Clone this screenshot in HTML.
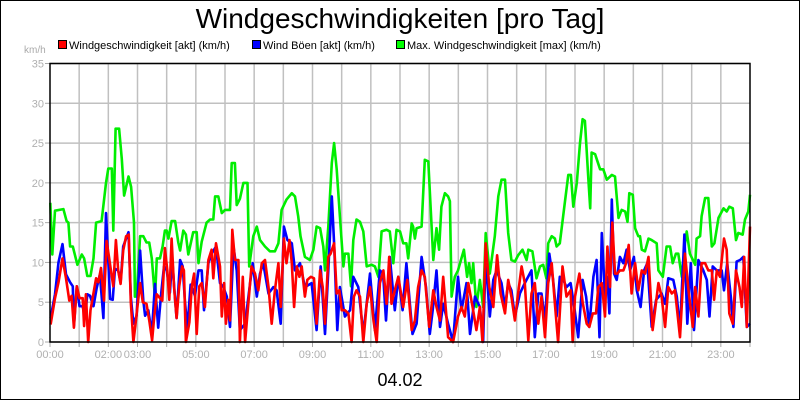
<!DOCTYPE html>
<html><head><meta charset="utf-8"><style>
body{margin:0;background:#fff}
svg{display:block;font-family:"Liberation Sans",sans-serif}
</style></head><body>
<svg id="chart" width="800" height="400" viewBox="0 0 800 400" xmlns="http://www.w3.org/2000/svg">
<rect x="0.5" y="0.5" width="799" height="399" fill="#fff" stroke="#000"/>
<text x="400" y="28" font-size="28" text-anchor="middle" fill="#000">Windgeschwindigkeiten [pro Tag]</text>
<g font-size="11">
<g><rect x="58.5" y="40.5" width="8" height="8" fill="#f00" stroke="#000"/><text x="69" y="49">Windgeschwindigkeit [akt] (km/h)</text></g>
<g><rect x="252.5" y="40.5" width="8" height="8" fill="#00f" stroke="#000"/><text x="263" y="49">Wind Böen [akt] (km/h)</text></g>
<g><rect x="396.5" y="40.5" width="8" height="8" fill="#0f0" stroke="#000"/><text x="407" y="49">Max. Windgeschwindigkeit [max] (km/h)</text></g>
</g>
<text x="24" y="53" font-size="10" fill="#aaa">km/h</text>
<g id="grid"></g><g id="axes"></g><g id="series"></g>
<rect x="50" y="63.5" width="700" height="278.5" fill="none" stroke="#000" stroke-width="1.5"/>
<text x="400" y="386" font-size="18" text-anchor="middle">04.02</text>
</svg>
<script>
const yTicks=[0,5,10,15,20,25,30,35];
const xTickLabels=["00:00","02:00","03:00","05:00","07:00","09:00","11:00","13:00","15:00","17:00","19:00","21:00","23:00"];
const xTickHours=[0,2,3,5,7,9,11,13,15,17,19,21,23];
const greenT=[0.01,0.08,0.17,0.46,0.57,0.63,0.69,0.78,0.94,1.09,1.17,1.28,1.39,1.49,1.58,1.77,1.92,2.0,2.12,2.17,2.25,2.37,2.46,2.54,2.69,2.78,2.88,2.91,2.97,3.09,3.2,3.31,3.4,3.49,3.6,3.66,3.77,3.86,3.94,4.0,4.06,4.17,4.29,4.40,4.46,4.57,4.66,4.74,4.91,5.03,5.09,5.20,5.37,5.49,5.60,5.66,5.77,5.89,6.00,6.17,6.23,6.34,6.40,6.51,6.63,6.77,6.83,6.97,7.09,7.20,7.37,7.54,7.71,7.83,7.94,8.11,8.29,8.40,8.51,8.59,8.74,8.91,9.03,9.14,9.26,9.37,9.43,9.54,9.66,9.74,9.83,9.94,10.06,10.11,10.23,10.32,10.40,10.51,10.63,10.74,10.86,11.03,11.14,11.26,11.37,11.54,11.65,11.77,11.88,12.00,12.11,12.22,12.28,12.40,12.45,12.51,12.57,12.74,12.85,12.97,13.14,13.25,13.34,13.42,13.54,13.65,13.71,13.77,13.88,13.99,14.19,14.30,14.37,14.45,14.51,14.62,14.74,14.85,14.94,15.08,15.25,15.37,15.48,15.60,15.71,15.82,15.94,16.05,16.20,16.34,16.40,16.54,16.68,16.80,16.91,17.02,17.08,17.20,17.31,17.37,17.48,17.65,17.77,17.86,17.94,18.06,18.17,18.26,18.34,18.46,18.52,18.57,18.69,18.86,18.97,19.09,19.26,19.37,19.49,19.60,19.72,19.80,19.86,19.98,20.06,20.17,20.23,20.29,20.40,20.52,20.63,20.80,20.86,21.01,21.14,21.26,21.35,21.46,21.54,21.66,21.77,21.83,21.94,22.12,22.17,22.29,22.34,22.46,22.57,22.69,22.78,22.92,23.09,23.20,23.29,23.41,23.52,23.60,23.75,23.83,23.94,24.0];
const greenV=[17.5,11,16.5,16.7,15.2,15,12,12,9.7,11,10.5,8.3,8.3,10.5,15,15.2,20,21.8,21.8,14,26.8,26.8,23,18.4,20.8,19.5,15,5.7,5.7,13.3,13.3,12.5,12.5,10.5,5.5,10.5,10.5,12,14,14,13,15.2,15.2,12.5,11.5,14,13.5,11,13.8,13.8,9.9,12.6,15,15.4,15.4,18.3,18.3,16.2,16.6,16.6,22.5,22.5,17.2,18,20,20,9.5,13.3,14.5,12.8,12,11.4,11.4,12.4,16.6,17.9,18.7,18.3,15.8,13.3,10.7,10.3,11.6,14.5,14.3,12,9,14.5,22.5,25,21.7,15.8,9.5,11.1,11.1,7,12.8,15.4,15.1,13.9,9.5,9.7,9.5,8.2,13.9,14.1,13.9,9.9,14.1,13.9,12.4,12.4,10.5,14.9,14.5,13,14.3,14.5,22.9,22.7,10.3,14.3,11.6,17,18.7,18.3,17.7,5.7,8.2,9,11.6,8.2,9.9,7.4,9.9,4.4,7.8,4.4,13.7,8.6,13.3,18.3,20.4,20.4,13.7,10.3,10.1,10.9,11.6,10.3,11.6,11.4,8,9.5,9.7,8,12.4,13.3,13,12,12.4,17.5,21,21,17,20,25,28,27.8,20.4,16.8,23.8,23.6,21.7,21.7,20.4,21,20.8,15.6,16.6,16.4,15.1,18.7,18.5,14.3,13.3,13.3,11.6,11.4,13,12.8,12.4,9,8.2,12,12,9.9,11.1,11.1,8.2,12.4,13.9,11.1,9.7,13,13.3,15.8,18.1,18.1,12,12.4,15.6,16.8,16.4,17,16.8,12.8,13.7,13.5,15.4,16.4,18.5];
const blueT=[0.02,0.17,0.29,0.43,0.55,0.69,0.78,0.82,0.92,1.01,1.12,1.20,1.28,1.37,1.49,1.60,1.71,1.83,1.92,2.06,2.15,2.23,2.34,2.42,2.51,2.69,2.77,2.86,2.97,3.09,3.20,3.26,3.37,3.49,3.60,3.71,3.81,3.91,4.00,4.11,4.19,4.29,4.34,4.46,4.55,4.63,4.71,4.82,4.97,5.09,5.20,5.28,5.43,5.54,5.69,5.83,5.94,6.06,6.17,6.29,6.40,6.51,6.69,6.86,6.95,7.09,7.20,7.31,7.49,7.66,7.77,7.91,8.02,8.14,8.29,8.40,8.57,8.74,8.97,9.14,9.28,9.43,9.54,9.66,9.74,9.85,9.94,10.11,10.29,10.40,10.57,10.74,10.97,11.14,11.31,11.42,11.52,11.65,11.82,11.94,12.09,12.22,12.34,12.43,12.57,12.74,12.89,13.02,13.12,13.25,13.37,13.48,13.65,13.82,13.99,14.11,14.28,14.40,14.57,14.74,14.85,14.94,15.08,15.20,15.31,15.48,15.60,15.71,15.82,15.94,16.11,16.28,16.51,16.62,16.74,16.85,16.97,17.12,17.25,17.37,17.48,17.60,17.71,17.85,17.99,18.11,18.26,18.38,18.49,18.63,18.74,18.84,18.92,19.03,19.11,19.18,19.26,19.34,19.43,19.54,19.66,19.77,19.89,20.02,20.12,20.25,20.37,20.48,20.63,20.78,20.97,21.09,21.20,21.37,21.49,21.60,21.75,21.85,21.97,22.08,22.23,22.40,22.52,22.61,22.72,22.86,23.03,23.11,23.22,23.34,23.43,23.54,23.66,23.77,23.89,24.0];
const blueV=[3,6,10,12.3,8.5,7.5,7,2,7,4.5,4.5,3,6,5.8,4.5,6.8,8.5,3,16.2,5.4,5.3,9.2,9,7.5,12,13.8,5.7,2.3,3.3,11.5,5.2,3.3,4,1,7.3,1.8,6,9.5,9,6.2,10.5,5.3,3,10.3,9.5,5,1.7,7.2,5.8,9,9,4,9.9,11.1,12,7.4,6.9,5.7,1.9,12,9,1.5,2.3,7.4,9.9,5.7,8.6,9.9,6.1,6.9,6.5,2.3,14.5,12.8,12.4,9,9.9,6.9,7.4,1.5,9.5,1,9,18.3,12.4,1.5,6.9,3.2,4,8.2,6.9,1,8.6,1.5,9,8.6,2.7,10.7,4,8.2,4,9.9,4.8,1,2.3,10.7,6.9,1,4,9,1.9,4.8,2.3,0,8.2,4,7.4,1,5.7,4.4,0,10.7,3.2,7.8,9,7.4,4.4,7.4,6.5,3.2,6.1,7.4,9,0.6,6.1,6.1,2.7,11.1,7.8,3.2,8.2,7.8,6.9,7.4,4,0.6,7.8,5.7,1.9,8.2,10.3,0.6,13.7,5.7,8.2,3.6,17.9,8.6,7.8,10.7,9.9,11.6,9,10.7,6.5,4.4,9,9.9,1.9,5.3,6.1,4.8,8,7.8,5.7,1.5,13.5,2.3,9.9,1.5,10.3,9,7.8,3.2,9.5,9,9,6.5,9.9,5.7,1.9,10.1,10.3,10.7,1.9,2.3];
const redT=[0.02,0.17,0.29,0.43,0.55,0.66,0.74,0.82,0.92,1.01,1.12,1.17,1.23,1.31,1.39,1.46,1.58,1.66,1.75,1.85,1.94,2.03,2.11,2.17,2.26,2.34,2.42,2.51,2.61,2.70,2.77,2.86,2.95,3.09,3.18,3.31,3.41,3.50,3.57,3.66,3.77,3.85,3.94,4.02,4.09,4.17,4.25,4.34,4.43,4.53,4.59,4.66,4.78,4.86,4.94,5.03,5.12,5.20,5.31,5.43,5.54,5.60,5.69,5.83,5.89,5.97,6.03,6.11,6.17,6.25,6.34,6.46,6.51,6.61,6.69,6.80,6.91,7.03,7.14,7.26,7.37,7.49,7.60,7.71,7.83,7.91,8.02,8.11,8.21,8.29,8.37,8.46,8.55,8.63,8.74,8.82,8.94,9.05,9.14,9.26,9.35,9.43,9.54,9.62,9.74,9.83,9.92,10.00,10.11,10.23,10.34,10.42,10.51,10.63,10.74,10.86,10.97,11.09,11.20,11.31,11.43,11.54,11.63,11.71,11.82,11.94,12.11,12.25,12.40,12.51,12.62,12.74,12.85,13.00,13.14,13.25,13.37,13.48,13.65,13.82,13.99,14.11,14.22,14.34,14.49,14.62,14.74,14.83,14.94,15.06,15.20,15.33,15.45,15.60,15.71,15.82,15.94,16.05,16.17,16.28,16.40,16.51,16.62,16.74,16.85,16.97,17.08,17.20,17.31,17.42,17.57,17.71,17.85,17.92,18.00,18.15,18.26,18.40,18.49,18.61,18.72,18.80,18.92,19.03,19.11,19.20,19.28,19.37,19.45,19.54,19.66,19.75,19.84,19.94,20.06,20.17,20.29,20.40,20.52,20.66,20.86,20.97,21.09,21.20,21.32,21.43,21.60,21.69,21.77,21.89,22.04,22.12,22.23,22.34,22.46,22.57,22.69,22.77,22.86,22.97,23.11,23.20,23.29,23.41,23.52,23.64,23.72,23.80,23.89,24.0];
const redV=[2.2,5.5,7.5,10.5,8,5.2,5.8,1.8,7,5.5,5.5,2,6,0,4,5.5,8,7.5,9.3,5.2,12.7,10.5,8.5,7,12.8,9,7.3,11.5,13.3,13.5,5,0,2.8,7.4,5,4.8,2.5,0.2,3,6,5.5,5.2,11.8,9,5.3,13,7,3,7,9.5,9,0,2.5,7,8.6,1,7,7.4,4.4,10.3,11.6,8,12.4,9.5,3.2,7.4,2.3,5.3,2.7,14.1,10.3,10.3,0,8.2,0,4.8,9.5,8.6,6.5,9.9,10.3,6.9,2.3,6.5,9.9,4.4,13,9.9,12.8,9.9,4.4,9.5,8.2,9.5,5.7,7.8,8.2,8,2.3,9,6.9,2.3,10.7,11.1,12.4,6.1,6.5,4,4,3.6,0,5.7,6.5,5.7,0,4.8,6.9,2.7,0,7.4,9,4.8,10.7,4.8,6.5,8.2,4.4,7.8,1.5,2.7,6.9,9,8.2,1.9,6.5,4.4,2.7,8.2,0.6,0,3.2,4.4,3.2,7.4,4.4,1.5,4.4,0,12.4,6.9,4.4,10.9,6.1,3.6,7.8,5.7,2.7,6.1,9.5,7.4,0.2,6.1,7.4,2.3,5.7,0.6,7.4,9.9,4.8,0,9.5,5.7,6.5,0,5.7,8.6,5,2.3,1.9,3.6,3.6,6.9,7.4,3.2,12,6.9,15,8.6,8.6,9,9,9.9,12.2,6.1,9.9,6.5,9,8.6,10.7,1.5,7.4,5.7,1.9,6.9,6.1,6.5,0.6,6.5,11.1,6.5,1.9,6.9,3.2,9.9,9.9,9,9,5.3,9,8.2,13,11.6,3.6,2.3,9,6.9,4.4,10.7,1.9,14.5];

const NS='http://www.w3.org/2000/svg';
const X0=50,X1=750,Y0=342,Y1=63.5,HMAX=24,VMAX=35;
function xs(h){return X0+(h/HMAX)*(X1-X0);}
function ys(v){return Y0-(v/VMAX)*(Y0-Y1);}
function mk(tag,attrs,parent){const e=document.createElementNS(NS,tag);for(const k in attrs)e.setAttribute(k,attrs[k]);parent.appendChild(e);return e;}
const grid=document.getElementById('grid'),axes=document.getElementById('axes'),series=document.getElementById('series');
yTicks.forEach(v=>{
  const l=mk('line',{x1:X0,x2:X1,y1:ys(v),y2:ys(v),stroke:'#c0c0c0','stroke-width':1.5},grid);
  
  
  const tk=mk('line',{x1:X0-5,x2:X0,y1:ys(v),y2:ys(v),stroke:'#aaa'},axes);
  
  
  const t=mk('text',{x:X0-6,y:ys(v)+4,'font-size':11,'text-anchor':'end',fill:'#b0b0b0'},axes);
  t.textContent=v;
  
  
});
for(let h=1;h<HMAX;h++){
  const l=mk('line',{x1:xs(h),x2:xs(h),y1:Y1,y2:Y0,stroke:'#c0c0c0','stroke-width':1.5},grid);
  
  
}
for(let h=0;h<=HMAX;h++){
  const tk=mk('line',{x1:xs(h),x2:xs(h),y1:Y0,y2:Y0+5,stroke:'#aaa'},axes);
  
  
}
xTickLabels.forEach((s,i)=>{
  const t=mk('text',{x:xs(xTickHours[i]),y:358,'font-size':11,'text-anchor':'middle',fill:'#b0b0b0'},axes);
  t.textContent=s;
  
  
});
function line(T,V,color,name){
  const d=T.map((h,i)=>(i?'L':'M')+xs(h).toFixed(1)+' '+ys(V[i]).toFixed(1)).join(' ');
  const p=mk('path',{d:d,fill:'none',stroke:color,'stroke-width':2.6,'stroke-linejoin':'round'},series);
  
  
}
line(greenT,greenV,'#00ee00','series-max-speed');
line(blueT,blueV,'#0000ff','series-gusts');
line(redT,redV,'#ff0000','series-speed');
</script>
</body></html>
